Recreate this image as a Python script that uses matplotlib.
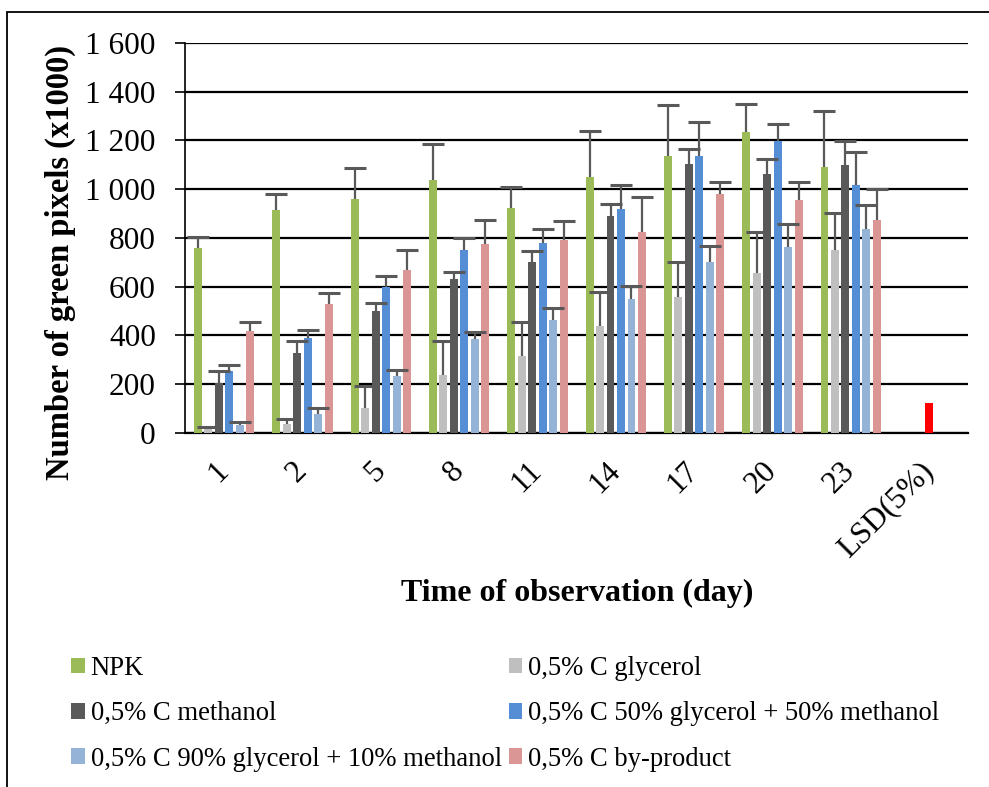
import numpy as np
import matplotlib
matplotlib.use('Agg')
import matplotlib.pyplot as plt
from matplotlib.patches import Rectangle
from matplotlib.ticker import FuncFormatter

plt.rcParams['font.family'] = ['Liberation Serif', 'DejaVu Serif']

days = ['1', '2', '5', '8', '11', '14', '17', '20', '23']

# mean green pixel counts (x1000) and upper standard deviation per treatment
npk = [758, 916, 958, 1039, 923, 1049, 1138, 1236, 1093]
npk_sd = [45, 65, 129, 148, 86, 190, 206, 115, 227]
glycerol = [19, 37, 104, 238, 316, 437, 559, 656, 752]
glycerol_sd = [7, 20, 89, 140, 141, 142, 142, 167, 149]
methanol = [207, 327, 500, 630, 701, 890, 1103, 1062, 1101]
methanol_sd = [48, 51, 35, 31, 46, 50, 61, 63, 98]
mix_50 = [253, 390, 600, 749, 779, 920, 1138, 1199, 1017]
mix_50_sd = [28, 33, 43, 49, 57, 98, 138, 69, 137]
mix_90 = [31, 78, 234, 385, 465, 549, 700, 762, 838]
mix_90_sd = [13, 23, 26, 31, 46, 55, 67, 94, 98]
byproduct = [418, 531, 667, 776, 790, 825, 982, 957, 875]
byproduct_sd = [36, 45, 83, 97, 78, 143, 47, 74, 124]
lsd = 123

labels = ['NPK', '0,5% C glycerol', '0,5% C methanol',
          '0,5% C 50% glycerol + 50% methanol',
          '0,5% C 90% glycerol + 10% methanol', '0,5% C by-product']
colors = ['#9BBB59', '#BFBFBF', '#595959', '#558ED5', '#95B3D7', '#D99694']
series = [npk, glycerol, methanol, mix_50, mix_90, byproduct]
errors = [npk_sd, glycerol_sd, methanol_sd, mix_50_sd, mix_90_sd, byproduct_sd]

fig = plt.figure(figsize=(9.89, 7.87), dpi=100)
ax = fig.add_axes([0.187, 0.4498, 0.792, 0.4956])

idx = np.arange(len(days))
step = 0.134
width = 0.102
handles = []
for j, (vals, err, col, lab) in enumerate(zip(series, errors, colors, labels)):
    x = idx + (j - 2.5) * step
    b = ax.bar(x, vals, width, color=col, label=lab, zorder=3)
    eb = ax.errorbar(x, vals, yerr=[np.zeros(len(err)), err], fmt='none',
                     ecolor='#595959', elinewidth=1.6, capsize=8, capthick=2.2,
                     zorder=4)
    # only the upper cap is wanted
    eb[1][0].set_visible(False)
    handles.append(b)

ax.bar(len(days), lsd, width, color='#FF0000', zorder=3)

ax.set_xlim(-0.5, len(days) + 0.5)
ax.set_ylim(0, 1600)
ax.set_yticks(np.arange(0, 1601, 200))
ax.yaxis.set_major_formatter(FuncFormatter(lambda v, p: f'{int(v):,}'.replace(',', ' ')))
ax.set_xticks(np.arange(len(days) + 1))
ax.set_xticklabels(days + ['LSD(5%)'], rotation=45, ha='right', va='center',
                   rotation_mode='anchor')
ax.tick_params(axis='x', length=0, pad=24, labelsize=22.5)
ax.tick_params(axis='y', length=7, width=1.2, pad=14, labelsize=22.5)

ax.grid(axis='y', color='black', linewidth=1.6, zorder=0)
for s in ['top', 'right']:
    ax.spines[s].set_visible(False)
ax.spines['left'].set_linewidth(1.2)
ax.spines['bottom'].set_linewidth(1.6)

fig.text(60 / 989, 1 - 262 / 787, 'Number of green pixels (x1000)', rotation=90,
         ha='center', va='center', fontsize=23.5, fontweight='bold')
fig.text(577 / 989, 1 - 593 / 787, 'Time of observation (day)',
         ha='center', va='center', fontsize=23, fontweight='bold')

# legend filled row by row: reorder for matplotlib's column-wise fill
order = [0, 2, 4, 1, 3, 5]
fig.legend(handles=[handles[k] for k in order], labels=[labels[k] for k in order],
           loc='upper left', bbox_to_anchor=(71 / 989, 1 - 656 / 787),
           ncol=2, frameon=False, fontsize=19.2, handlelength=0.52, handleheight=0.52,
           handletextpad=0.22, columnspacing=0.25, labelspacing=0.76,
           borderpad=0, borderaxespad=0)

# outer border around the chart area
fig.patches.append(Rectangle((7 / 989, -0.01), 1.0, 1 - 12 / 787 + 0.01,
                             transform=fig.transFigure, fill=False,
                             edgecolor='black', linewidth=1.3, clip_on=False))

fig.savefig('out.png', dpi=100)
